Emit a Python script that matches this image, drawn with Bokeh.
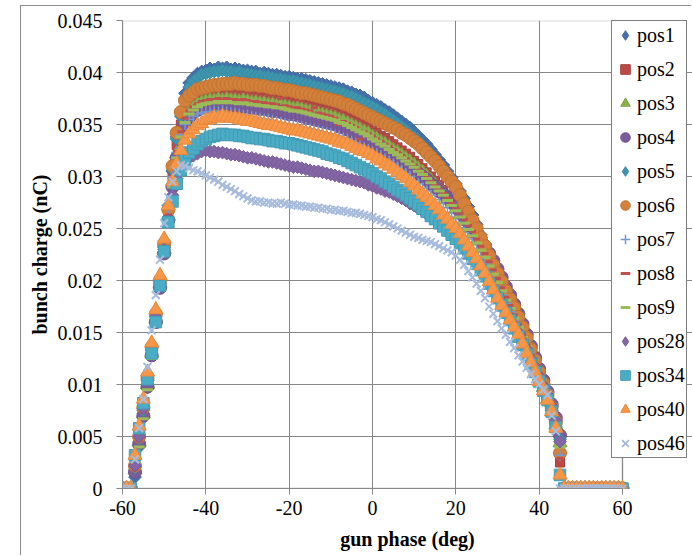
import math
from bokeh.plotting import figure
from bokeh.models import (Legend, LegendItem, BoxAnnotation, FixedTicker,
                          NumeralTickFormatter)
from bokeh.embed import file_html
from bokeh.resources import INLINE

# gun phase (deg)
phase = [-60, -59, -58, -57, -56, -55, -54, -53, -52, -51, -50, -49, -48, -47, -46, -45,
         -44, -43, -42, -41, -40, -39, -38, -37, -36, -35, -34, -33, -32, -31, -30,
         -29, -28, -27, -26, -25, -24, -23, -22, -21, -20, -19, -18, -17, -16, -15,
         -14, -13, -12, -11, -10, -9, -8, -7, -6, -5, -4, -3, -2, -1, 0,
         1, 2, 3, 4, 5, 6, 7, 8, 9, 10, 11, 12, 13, 14, 15, 16, 17, 18, 19, 20,
         21, 22, 23, 24, 25, 26, 27, 28, 29, 30, 31, 32, 33, 34, 35, 36, 37, 38, 39, 40,
         41, 42, 43, 44, 45, 46, 47, 48, 49, 50, 51, 52, 53, 54, 55, 56, 57, 58, 59, 60]

# bunch charge (nC)
pos1 = [0, 0, 0,
        0.0011, 0.0040, 0.0068, 0.0097, 0.0128, 0.0162, 0.0196, 0.0232, 0.0268, 0.0305, 0.0338, 0.0362, 0.0380,
        0.0390, 0.0395, 0.0399, 0.0401, 0.0402, 0.0404, 0.0403, 0.0405, 0.0404, 0.0405,
        0.0403, 0.0404, 0.0403, 0.0402, 0.0402, 0.0401, 0.0401, 0.0399, 0.0400, 0.0399,
        0.0398, 0.0398, 0.0397, 0.0396, 0.0396, 0.0395, 0.0394, 0.0394, 0.0393, 0.0392,
        0.0391, 0.0390, 0.0389, 0.0388, 0.0387, 0.0386, 0.0385, 0.0384, 0.0382, 0.0381,
        0.0379, 0.0378, 0.0376, 0.0373, 0.0371, 0.0369, 0.0367, 0.0364, 0.0362, 0.0359,
        0.0356, 0.0353, 0.0350, 0.0347, 0.0343, 0.0339, 0.0335, 0.0331, 0.0326, 0.0321,
        0.0316, 0.0311, 0.0305, 0.0299, 0.0293,
        0.0286, 0.0279, 0.0271, 0.0263, 0.0254, 0.0244, 0.0234, 0.0224, 0.0214, 0.0204,
        0.0195, 0.0186, 0.0177, 0.0168, 0.0159, 0.0150, 0.0140, 0.0130, 0.0119, 0.0108,
        0.0097, 0.0086, 0.0075, 0.0062, 0.0050,
        0, 0, 0, 0, 0, 0, 0, 0, 0, 0, 0, 0, 0, 0, 0]
pos2 = [0, 0, 0,
        0.0020, 0.0047, 0.0074, 0.0102, 0.0133, 0.0166, 0.0200, 0.0234, 0.0266, 0.0300, 0.0330, 0.0350, 0.0362,
        0.0369, 0.0373, 0.0375, 0.0377, 0.0378, 0.0379, 0.0379, 0.0380, 0.0380, 0.0380,
        0.0379, 0.0380, 0.0379, 0.0379, 0.0378, 0.0378, 0.0377, 0.0377, 0.0376, 0.0376,
        0.0375, 0.0375, 0.0374, 0.0373, 0.0373, 0.0372, 0.0371, 0.0370, 0.0369, 0.0368,
        0.0367, 0.0366, 0.0365, 0.0364, 0.0363, 0.0362, 0.0360, 0.0359, 0.0357, 0.0355,
        0.0353, 0.0351, 0.0349, 0.0347, 0.0344, 0.0342, 0.0339, 0.0337, 0.0334, 0.0331,
        0.0328, 0.0325, 0.0322, 0.0319, 0.0315, 0.0312, 0.0308, 0.0304, 0.0300, 0.0296,
        0.0292, 0.0287, 0.0282, 0.0277, 0.0272,
        0.0266, 0.0260, 0.0254, 0.0248, 0.0241, 0.0234, 0.0227, 0.0219, 0.0212, 0.0204,
        0.0195, 0.0187, 0.0178, 0.0169, 0.0160, 0.0150, 0.0140, 0.0130, 0.0120, 0.0110,
        0.0099, 0.0088, 0.0076, 0.0063, 0.0025,
        0, 0, 0, 0, 0, 0, 0, 0, 0, 0, 0, 0, 0, 0, 0]
pos3 = [0, 0, 0,
        0.0018, 0.0045, 0.0072, 0.0100, 0.0130, 0.0163, 0.0197, 0.0230, 0.0262, 0.0295, 0.0322, 0.0342, 0.0355,
        0.0362, 0.0366, 0.0369, 0.0371, 0.0372, 0.0373, 0.0373, 0.0374, 0.0373, 0.0374,
        0.0373, 0.0373, 0.0372, 0.0373, 0.0372, 0.0371, 0.0371, 0.0370, 0.0370, 0.0369,
        0.0369, 0.0368, 0.0368, 0.0367, 0.0366, 0.0365, 0.0365, 0.0364, 0.0363, 0.0362,
        0.0361, 0.0360, 0.0359, 0.0358, 0.0357, 0.0356, 0.0354, 0.0353, 0.0351, 0.0349,
        0.0347, 0.0345, 0.0343, 0.0341, 0.0338, 0.0336, 0.0333, 0.0331, 0.0328, 0.0325,
        0.0323, 0.0320, 0.0317, 0.0314, 0.0311, 0.0307, 0.0304, 0.0300, 0.0296, 0.0292,
        0.0288, 0.0284, 0.0279, 0.0274, 0.0269,
        0.0263, 0.0257, 0.0251, 0.0245, 0.0238, 0.0231, 0.0224, 0.0216, 0.0208, 0.0200,
        0.0192, 0.0183, 0.0175, 0.0166, 0.0157, 0.0147, 0.0138, 0.0128, 0.0118, 0.0107,
        0.0097, 0.0086, 0.0074, 0.0061, 0.0044,
        0, 0, 0, 0, 0, 0, 0, 0, 0, 0, 0, 0, 0, 0, 0]
pos4 = [0, 0, 0,
        0.0016, 0.0043, 0.0070, 0.0098, 0.0128, 0.0160, 0.0193, 0.0226, 0.0258, 0.0290, 0.0318, 0.0338, 0.0350,
        0.0357, 0.0361, 0.0364, 0.0366, 0.0367, 0.0368, 0.0368, 0.0369, 0.0368, 0.0369,
        0.0368, 0.0368, 0.0367, 0.0367, 0.0367, 0.0366, 0.0366, 0.0365, 0.0365, 0.0364,
        0.0363, 0.0363, 0.0362, 0.0361, 0.0360, 0.0360, 0.0359, 0.0358, 0.0357, 0.0356,
        0.0355, 0.0354, 0.0353, 0.0352, 0.0351, 0.0350, 0.0348, 0.0347, 0.0345, 0.0343,
        0.0341, 0.0339, 0.0337, 0.0335, 0.0333, 0.0330, 0.0328, 0.0325, 0.0323, 0.0320,
        0.0318, 0.0315, 0.0312, 0.0309, 0.0306, 0.0303, 0.0300, 0.0297, 0.0293, 0.0290,
        0.0286, 0.0283, 0.0279, 0.0275, 0.0271,
        0.0266, 0.0261, 0.0256, 0.0251, 0.0245, 0.0239, 0.0233, 0.0226, 0.0219, 0.0211,
        0.0203, 0.0194, 0.0186, 0.0177, 0.0168, 0.0158, 0.0148, 0.0137, 0.0126, 0.0115,
        0.0104, 0.0093, 0.0081, 0.0068, 0.0051,
        0, 0, 0, 0, 0, 0, 0, 0, 0, 0, 0, 0, 0, 0, 0]
pos5 = [0, 0, 0,
        0.0020, 0.0048, 0.0075, 0.0104, 0.0135, 0.0168, 0.0202, 0.0238, 0.0272, 0.0306, 0.0336, 0.0358, 0.0375,
        0.0386, 0.0392, 0.0395, 0.0398, 0.0399, 0.0400, 0.0401, 0.0401, 0.0402, 0.0401,
        0.0401, 0.0400, 0.0401, 0.0399, 0.0399, 0.0398, 0.0397, 0.0397, 0.0396, 0.0396,
        0.0395, 0.0394, 0.0394, 0.0393, 0.0392, 0.0392, 0.0391, 0.0390, 0.0389, 0.0388,
        0.0387, 0.0386, 0.0385, 0.0384, 0.0383, 0.0382, 0.0381, 0.0380, 0.0378, 0.0377,
        0.0375, 0.0373, 0.0371, 0.0369, 0.0367, 0.0365, 0.0362, 0.0360, 0.0357, 0.0354,
        0.0351, 0.0348, 0.0345, 0.0341, 0.0338, 0.0334, 0.0330, 0.0325, 0.0321, 0.0316,
        0.0311, 0.0305, 0.0300, 0.0294, 0.0288,
        0.0281, 0.0273, 0.0265, 0.0257, 0.0248, 0.0239, 0.0229, 0.0219, 0.0210, 0.0200,
        0.0191, 0.0182, 0.0173, 0.0164, 0.0155, 0.0146, 0.0136, 0.0126, 0.0116, 0.0105,
        0.0094, 0.0083, 0.0072, 0.0060, 0.0047,
        0, 0, 0, 0, 0, 0, 0, 0, 0, 0, 0, 0, 0, 0, 0]
pos6 = [0, 0, 0,
        0.0022, 0.0050, 0.0078, 0.0106, 0.0136, 0.0168, 0.0200, 0.0234, 0.0268, 0.0310, 0.0342, 0.0362, 0.0373,
        0.0378, 0.0381, 0.0384, 0.0385, 0.0386, 0.0387, 0.0388, 0.0388, 0.0389, 0.0389,
        0.0389, 0.0390, 0.0389, 0.0389, 0.0388, 0.0388, 0.0388, 0.0387, 0.0387, 0.0386,
        0.0385, 0.0385, 0.0384, 0.0383, 0.0383, 0.0382, 0.0381, 0.0380, 0.0380, 0.0379,
        0.0378, 0.0377, 0.0376, 0.0375, 0.0374, 0.0373, 0.0372, 0.0370, 0.0369, 0.0367,
        0.0365, 0.0363, 0.0361, 0.0359, 0.0357, 0.0355, 0.0353, 0.0351, 0.0349, 0.0347,
        0.0345, 0.0342, 0.0340, 0.0337, 0.0334, 0.0331, 0.0327, 0.0323, 0.0319, 0.0315,
        0.0310, 0.0305, 0.0300, 0.0295, 0.0290,
        0.0282, 0.0274, 0.0266, 0.0258, 0.0250, 0.0241, 0.0233, 0.0224, 0.0215, 0.0207,
        0.0199, 0.0190, 0.0182, 0.0174, 0.0165, 0.0155, 0.0145, 0.0134, 0.0123, 0.0112,
        0.0101, 0.0090, 0.0078, 0.0064, 0.0034,
        0, 0, 0, 0, 0, 0, 0, 0, 0, 0, 0, 0, 0, 0, 0]
pos7 = [0, 0, 0,
        0.0025, 0.0052, 0.0080, 0.0108, 0.0138, 0.0170, 0.0203, 0.0237, 0.0270, 0.0300, 0.0323, 0.0340, 0.0350,
        0.0355, 0.0358, 0.0360, 0.0361, 0.0362, 0.0362, 0.0363, 0.0362, 0.0363, 0.0362,
        0.0361, 0.0361, 0.0360, 0.0359, 0.0359, 0.0358, 0.0357, 0.0356, 0.0355, 0.0355,
        0.0354, 0.0353, 0.0352, 0.0351, 0.0350, 0.0350, 0.0349, 0.0348, 0.0347, 0.0346,
        0.0345, 0.0344, 0.0343, 0.0342, 0.0341, 0.0340, 0.0339, 0.0337, 0.0336, 0.0334,
        0.0332, 0.0330, 0.0328, 0.0326, 0.0324, 0.0322, 0.0320, 0.0317, 0.0315, 0.0312,
        0.0309, 0.0306, 0.0303, 0.0300, 0.0296, 0.0293, 0.0289, 0.0286, 0.0282, 0.0278,
        0.0274, 0.0270, 0.0265, 0.0261, 0.0256,
        0.0251, 0.0246, 0.0240, 0.0235, 0.0229, 0.0223, 0.0216, 0.0209, 0.0202, 0.0194,
        0.0186, 0.0178, 0.0170, 0.0162, 0.0153, 0.0144, 0.0135, 0.0126, 0.0116, 0.0106,
        0.0096, 0.0086, 0.0075, 0.0062, 0.0032,
        0, 0, 0, 0, 0, 0, 0, 0, 0, 0, 0, 0, 0, 0, 0]
pos8 = [0, 0, 0,
        0.0018, 0.0046, 0.0073, 0.0101, 0.0131, 0.0164, 0.0198, 0.0231, 0.0263, 0.0296, 0.0324, 0.0343, 0.0356,
        0.0363, 0.0367, 0.0370, 0.0372, 0.0373, 0.0374, 0.0374, 0.0375, 0.0374, 0.0375,
        0.0374, 0.0374, 0.0373, 0.0374, 0.0373, 0.0372, 0.0372, 0.0371, 0.0371, 0.0370,
        0.0370, 0.0369, 0.0375, 0.0368, 0.0367, 0.0366, 0.0366, 0.0365, 0.0364, 0.0363,
        0.0366, 0.0361, 0.0360, 0.0359, 0.0358, 0.0356, 0.0350, 0.0353, 0.0351, 0.0349,
        0.0347, 0.0336, 0.0343, 0.0341, 0.0339, 0.0336, 0.0334, 0.0331, 0.0329, 0.0326,
        0.0323, 0.0320, 0.0317, 0.0314, 0.0311, 0.0308, 0.0304, 0.0300, 0.0296, 0.0292,
        0.0288, 0.0284, 0.0279, 0.0275, 0.0270,
        0.0265, 0.0259, 0.0253, 0.0247, 0.0240, 0.0233, 0.0226, 0.0218, 0.0210, 0.0202,
        0.0193, 0.0184, 0.0176, 0.0167, 0.0158, 0.0148, 0.0138, 0.0128, 0.0118, 0.0108,
        0.0097, 0.0086, 0.0075, 0.0062, 0.0029,
        0, 0, 0, 0, 0, 0, 0, 0, 0, 0, 0, 0, 0, 0, 0]
pos9 = [0, 0, 0,
        0.0024, 0.0040, 0.0067, 0.0095, 0.0125, 0.0158, 0.0192, 0.0225, 0.0257, 0.0290, 0.0318, 0.0338, 0.0352,
        0.0360, 0.0364, 0.0367, 0.0369, 0.0370, 0.0371, 0.0371, 0.0372, 0.0371, 0.0372,
        0.0371, 0.0371, 0.0370, 0.0371, 0.0370, 0.0369, 0.0369, 0.0368, 0.0368, 0.0367,
        0.0367, 0.0366, 0.0366, 0.0365, 0.0364, 0.0363, 0.0363, 0.0362, 0.0361, 0.0360,
        0.0359, 0.0358, 0.0357, 0.0356, 0.0355, 0.0354, 0.0352, 0.0351, 0.0349, 0.0347,
        0.0345, 0.0343, 0.0341, 0.0339, 0.0336, 0.0334, 0.0331, 0.0329, 0.0326, 0.0323,
        0.0321, 0.0318, 0.0315, 0.0312, 0.0309, 0.0305, 0.0302, 0.0298, 0.0294, 0.0290,
        0.0286, 0.0282, 0.0277, 0.0272, 0.0267,
        0.0261, 0.0255, 0.0249, 0.0243, 0.0236, 0.0229, 0.0222, 0.0214, 0.0206, 0.0198,
        0.0190, 0.0181, 0.0173, 0.0164, 0.0155, 0.0145, 0.0136, 0.0126, 0.0116, 0.0105,
        0.0095, 0.0084, 0.0072, 0.0059, 0.0040,
        0, 0, 0, 0, 0, 0, 0, 0, 0, 0, 0, 0, 0, 0, 0]
pos28 = [0, 0, 0,
         0.0022, 0.0050, 0.0077, 0.0104, 0.0133, 0.0165, 0.0197, 0.0230, 0.0258, 0.0282, 0.0298, 0.0308, 0.0314,
         0.0318, 0.0320, 0.0322, 0.0324, 0.0325, 0.0324, 0.0324, 0.0323, 0.0323, 0.0322,
         0.0321, 0.0321, 0.0320, 0.0319, 0.0318, 0.0318, 0.0317, 0.0316, 0.0315, 0.0314,
         0.0314, 0.0313, 0.0312, 0.0311, 0.0310, 0.0309, 0.0309, 0.0308, 0.0307, 0.0306,
         0.0305, 0.0305, 0.0304, 0.0303, 0.0302, 0.0301, 0.0300, 0.0299, 0.0298, 0.0297,
         0.0296, 0.0295, 0.0294, 0.0292, 0.0291, 0.0289, 0.0288, 0.0286, 0.0285, 0.0283,
         0.0281, 0.0279, 0.0277, 0.0274, 0.0272, 0.0269, 0.0267, 0.0264, 0.0261, 0.0258,
         0.0254, 0.0251, 0.0247, 0.0244, 0.0240,
         0.0236, 0.0232, 0.0227, 0.0222, 0.0217, 0.0211, 0.0205, 0.0199, 0.0192, 0.0186,
         0.0179, 0.0172, 0.0165, 0.0157, 0.0150, 0.0142, 0.0134, 0.0125, 0.0117, 0.0108,
         0.0099, 0.0090, 0.0079, 0.0065, 0.0045,
         0, 0, 0, 0, 0, 0, 0, 0, 0, 0, 0, 0, 0, 0, 0]
pos34 = [0, 0, 0,
         0.0032, 0.0058, 0.0082, 0.0105, 0.0130, 0.0160, 0.0195, 0.0228, 0.0256, 0.0276, 0.0293, 0.0306, 0.0316,
         0.0323, 0.0327, 0.0331, 0.0334, 0.0336, 0.0338, 0.0339, 0.0340, 0.0341, 0.0340,
         0.0340, 0.0340, 0.0339, 0.0339, 0.0338, 0.0337, 0.0337, 0.0336, 0.0336, 0.0335,
         0.0334, 0.0334, 0.0333, 0.0332, 0.0332, 0.0331, 0.0330, 0.0329, 0.0328, 0.0327,
         0.0326, 0.0325, 0.0324, 0.0322, 0.0321, 0.0320, 0.0318, 0.0317, 0.0315, 0.0313,
         0.0311, 0.0309, 0.0307, 0.0305, 0.0303, 0.0300, 0.0298, 0.0295, 0.0293, 0.0290,
         0.0287, 0.0285, 0.0282, 0.0279, 0.0276, 0.0273, 0.0269, 0.0266, 0.0262, 0.0259,
         0.0255, 0.0252, 0.0248, 0.0244, 0.0240,
         0.0236, 0.0231, 0.0226, 0.0221, 0.0216, 0.0210, 0.0204, 0.0197, 0.0190, 0.0183,
         0.0176, 0.0169, 0.0162, 0.0154, 0.0146, 0.0138, 0.0129, 0.0120, 0.0112, 0.0103,
         0.0094, 0.0085, 0.0074, 0.0059, 0.0013,
         0, 0, 0, 0, 0, 0, 0, 0, 0, 0, 0, 0, 0, 0, 0]
pos40 = [0, 0, 0,
         0.0032, 0.0060, 0.0086, 0.0112, 0.0140, 0.0172, 0.0205, 0.0240, 0.0272, 0.0295, 0.0312, 0.0325, 0.0335,
         0.0341, 0.0345, 0.0349, 0.0351, 0.0354, 0.0355, 0.0357, 0.0356, 0.0358, 0.0357,
         0.0356, 0.0356, 0.0355, 0.0354, 0.0353, 0.0353, 0.0352, 0.0351, 0.0350, 0.0349,
         0.0349, 0.0348, 0.0347, 0.0346, 0.0345, 0.0344, 0.0344, 0.0343, 0.0342, 0.0341,
         0.0340, 0.0339, 0.0338, 0.0337, 0.0336, 0.0335, 0.0333, 0.0332, 0.0331, 0.0329,
         0.0327, 0.0325, 0.0324, 0.0322, 0.0320, 0.0317, 0.0315, 0.0312, 0.0310, 0.0307,
         0.0304, 0.0301, 0.0298, 0.0294, 0.0291, 0.0287, 0.0283, 0.0280, 0.0276, 0.0272,
         0.0268, 0.0263, 0.0259, 0.0254, 0.0250,
         0.0245, 0.0239, 0.0233, 0.0227, 0.0221, 0.0214, 0.0207, 0.0199, 0.0191, 0.0183,
         0.0176, 0.0169, 0.0162, 0.0155, 0.0148, 0.0139, 0.0130, 0.0121, 0.0112, 0.0103,
         0.0094, 0.0085, 0.0074, 0.0058, 0.0013,
         0, 0, 0, 0, 0, 0, 0, 0, 0, 0, 0, 0, 0, 0, 0]
pos46 = [0, 0, 0,
         0.0028, 0.0058, 0.0086, 0.0117, 0.0152, 0.0186, 0.0220, 0.0255, 0.0280, 0.0295, 0.0305, 0.0311, 0.0310,
         0.0308, 0.0306, 0.0305, 0.0303, 0.0301, 0.0299, 0.0297, 0.0295, 0.0292, 0.0290,
         0.0288, 0.0286, 0.0283, 0.0281, 0.0279, 0.0277, 0.0276, 0.0276, 0.0275, 0.0275,
         0.0274, 0.0274, 0.0275, 0.0274, 0.0273, 0.0273, 0.0272, 0.0272, 0.0271, 0.0271,
         0.0270, 0.0270, 0.0269, 0.0269, 0.0268, 0.0268, 0.0267, 0.0267, 0.0266, 0.0265,
         0.0265, 0.0264, 0.0263, 0.0262, 0.0261, 0.0259, 0.0258, 0.0256, 0.0254, 0.0252,
         0.0250, 0.0248, 0.0246, 0.0244, 0.0242, 0.0241, 0.0239, 0.0238, 0.0237, 0.0235,
         0.0233, 0.0231, 0.0229, 0.0227, 0.0224,
         0.0220, 0.0215, 0.0209, 0.0203, 0.0197, 0.0190, 0.0183, 0.0175, 0.0168, 0.0161,
         0.0154, 0.0148, 0.0141, 0.0135, 0.0128, 0.0122, 0.0116, 0.0110, 0.0105, 0.0100,
         0.0095, 0.0090, 0.0070, 0.0055, 0,
         0, 0, 0, 0, 0, 0, 0, 0, 0, 0, 0, 0, 0, 0, 0]

series_names = ["pos1", "pos2", "pos3", "pos4", "pos5", "pos6", "pos7", "pos8",
                "pos9", "pos28", "pos34", "pos40", "pos46"]
series_values = [pos1, pos2, pos3, pos4, pos5, pos6, pos7, pos8, pos9,
                 pos28, pos34, pos40, pos46]

x_ticks = [-60, -40, -20, 0, 20, 40, 60]
y_ticks = [0, 0.005, 0.01, 0.015, 0.02, 0.025, 0.03, 0.035, 0.04, 0.045]

for n, v in zip(series_names, series_values):
    if len(v) != len(phase):
        raise ValueError(f"{n} has {len(v)} values, expected {len(phase)}")

# marker styles
styles = {
    "pos1": dict(marker="square", size=9, fill_color="#4572AF", line_color="#3E67A0", line_width=1, angle=math.pi / 4),
    "pos2": dict(marker="square", size=9, fill_color="#BB4A47", line_color="#A8423F", line_width=1),
    "pos3": dict(marker="triangle", size=14, fill_color="#8DB04E", line_color="#809F47", line_width=1),
    "pos4": dict(marker="circle", size=13, fill_color="#7A5C9C", line_color="#6E538D", line_width=1),
    "pos5": dict(marker="square", size=9, fill_color="#3E95AE", line_color="#38889F", line_width=1, angle=math.pi / 4),
    "pos6": dict(marker="circle", size=13, fill_color="#D3803B", line_color="#C07434", line_width=1),
    "pos7": dict(marker="cross", size=11, fill_color=None, line_color="#7598D0", line_width=1.5),
    "pos8": dict(marker="dash", size=7, fill_color=None, line_color="#C0504D", line_width=3),
    "pos9": dict(marker="dash", size=11, fill_color=None, line_color="#9BBB59", line_width=3),
    "pos28": dict(marker="square", size=9, fill_color="#8466A6", line_color="#775C97", line_width=1, angle=math.pi / 4),
    "pos34": dict(marker="square", size=11.5, fill_color="#4BACC6", line_color="#449CB4", line_width=1),
    "pos40": dict(marker="triangle", size=14, fill_color="#F79646", line_color="#E88A3E", line_width=1),
    "pos46": dict(marker="x", size=11, fill_color=None, line_color="#A7BBDC", line_width=2),
}

GRID = "#878787"
FONT = "Liberation Serif"

# page layout (pixels): chart frame starts at (20, 5); plot area 122..622 x 20..488
PAGE_W, PAGE_H = 692, 556
FIG_LEFT, FIG_TOP = 21, 6
AREA_L, AREA_R, AREA_T, AREA_B = 122, 622, 20, 488
px_per_deg = (AREA_R - AREA_L) / (x_ticks[-1] - x_ticks[0])
x_end = x_ticks[-1] + (PAGE_W - AREA_R) / px_per_deg

p = figure(width=PAGE_W - FIG_LEFT, height=PAGE_H - FIG_TOP,
           x_range=(x_ticks[0], x_end), y_range=(y_ticks[0], y_ticks[-1]),
           output_backend="svg", toolbar_location=None,
           min_border_left=AREA_L - FIG_LEFT, min_border_right=0,
           min_border_top=AREA_T - FIG_TOP, min_border_bottom=PAGE_H - AREA_B,
           background_fill_color="white", border_fill_color="white",
           margin=(FIG_TOP, 0, 0, FIG_LEFT),
           styles={"box-shadow": "-1px -1px 0 0 #8C8C8C"})

p.outline_line_color = None

p.xaxis.ticker = FixedTicker(ticks=x_ticks)
p.yaxis.ticker = FixedTicker(ticks=y_ticks)
p.xaxis.formatter = NumeralTickFormatter(format="0")
p.yaxis.formatter = NumeralTickFormatter(format="0.[000]")
p.xaxis.bounds = (x_ticks[0], x_ticks[-1])
p.xgrid.ticker = FixedTicker(ticks=x_ticks)
p.ygrid.ticker = FixedTicker(ticks=y_ticks[:-1])
for g in (p.xgrid, p.ygrid):
    g.grid_line_color = GRID
    g.grid_line_width = 1

for ax in (p.xaxis, p.yaxis):
    ax.axis_line_color = GRID
    ax.major_tick_line_color = GRID
    ax.minor_tick_line_color = None
    ax.major_tick_in = 0
    ax.major_tick_out = 6
    ax.major_label_text_font = FONT
    ax.major_label_text_font_size = "20px"
    ax.major_label_text_color = "black"
    ax.axis_label_text_font = FONT
    ax.axis_label_text_font_size = "20px"
    ax.axis_label_text_font_style = "bold"
    ax.axis_label_text_color = "black"

p.yaxis.major_label_standoff = 14
p.xaxis.major_label_standoff = 6
p.xaxis.axis_label = "gun phase (deg)"
p.yaxis.axis_label = "bunch charge (nC)"
p.xaxis.axis_label_standoff = 10
p.yaxis.axis_label_standoff = 4

# plot-area border (top edge; sides coincide with axis / grid lines)
area_box = BoxAnnotation(left=x_ticks[0], right=x_ticks[-1], bottom=y_ticks[0], top=y_ticks[-1],
                         fill_alpha=0, fill_color=None, line_color=GRID, line_width=2,
                         level="underlay")
p.add_layout(area_box)

items = []
for n, v in zip(series_names, series_values):
    st = styles[n]
    legend_renderers = []
    if st.get("angle"):
        # legend keys are drawn unrotated, so the key uses a diamond marker
        # placed on the series' first point (hidden under the real markers)
        proxy = p.scatter(phase[:1], v[:1], marker="diamond", size=st["size"],
                          fill_color=st["fill_color"], line_color=st["line_color"],
                          line_width=st["line_width"])
        legend_renderers = [proxy]
    r = p.scatter(phase, v, **st)
    if not legend_renderers:
        legend_renderers = [r]
    items.append(LegendItem(label=n, renderers=legend_renderers))

legend = Legend(items=items, location=(611 - AREA_L, AREA_B - 458),
                label_text_font=FONT, label_text_font_size="20px", label_text_color="black",
                glyph_width=24, glyph_height=26, label_height=26, label_standoff=0,
                padding=1, spacing=8, margin=0,
                border_line_color="black", border_line_width=1,
                background_fill_color="white", background_fill_alpha=1)
p.add_layout(legend)

open("out.html", "w").write(file_html(p, INLINE))
